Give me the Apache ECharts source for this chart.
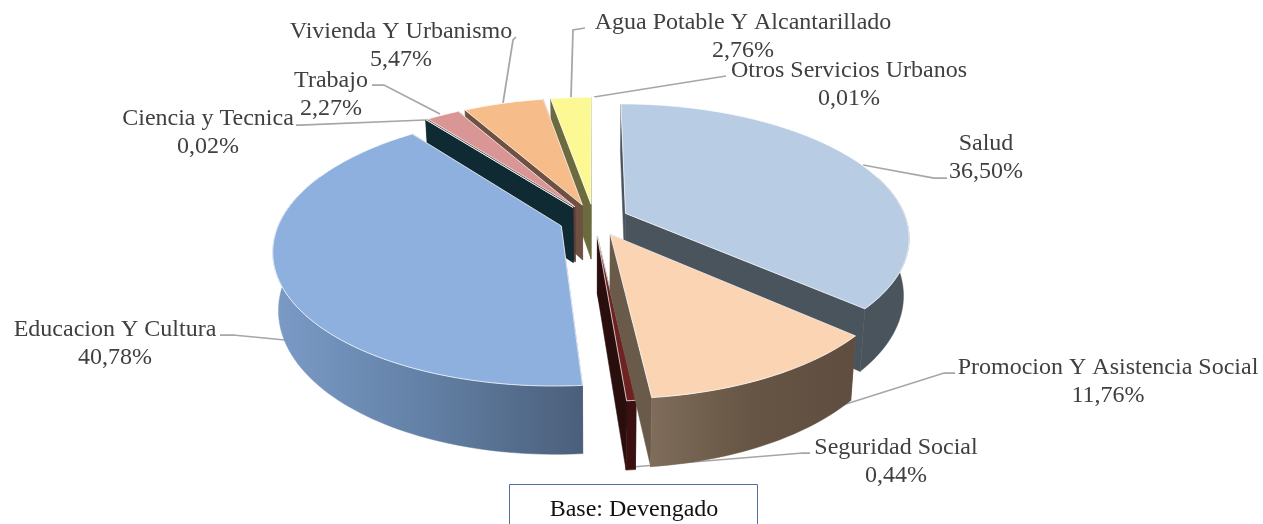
<!DOCTYPE html>
<html>
  <head>
    <meta charset="utf-8" />
    <title>Base: Devengado</title>
    <script src="https://cdn.jsdelivr.net/npm/echarts@6/dist/echarts.min.js"></script>
  </head>
  <body style="margin:0;background:#fff">
    <div id="container" style="width:1263px;height:524px;"></div>

    <script type="text/javascript">
    // datos
    var categories = ['Salud', 'Promocion Y Asistencia Social', 'Seguridad Social', 'Educacion Y Cultura',
      'Ciencia y Tecnica', 'Trabajo', 'Vivienda Y Urbanismo', 'Agua Potable Y Alcantarillado', 'Otros Servicios Urbanos'];
    var values = [36.50, 11.76, 0.44, 40.78, 0.02, 2.27, 5.47, 2.76, 0.01];
    var baseNote = 'Base: Devengado';

    // colores: tapa, pared recta, pared curva (izq, medio, der)
    var topColors = ['#b8cce4', '#fbd4b4', '#6e2222', '#8db0de', '#31859b', '#d99694', '#f6bc8a', '#fcf994', '#ffffff'];
    var sideColors = ['#4a545c', '#6a5a4a', '#2a0e0e', '#4b5f7a', '#0f2a33', '#5c3d3c', '#6e5140', '#6b6b3f', '#ffffff'];
    var arcColors = [['#4a545c', '#4a545c', '#4a545c'], ['#7f6c5a', '#665544', '#5f4e40'], ['#3a1010', '#3a1010', '#3a1010'],
      ['#7b9bc7', '#6280a5', '#4b5f7a'], ['#0f2a33', '#0f2a33', '#0f2a33'], ['#5c3d3c', '#5c3d3c', '#5c3d3c'],
      ['#6e5140', '#6e5140', '#6e5140'], ['#6b6b3f', '#6b6b3f', '#6b6b3f'], ['#ffffff', '#ffffff', '#ffffff']];
    // orden de pintado, de atras hacia adelante
    var paintOrder = [5, 8, 7, 6, 4, 3, 2, 1, 0];  // Salud .. Otros -> nivel

    // geometria de la torta 3D
    var cx = 594, cy = 220, rx = 281, ry = 130.4, persp = 0.1715, depth = 56, shrink = 0.018, explode = 0.124;

    // posicion de cada rotulo: centro x, y de la 1ra linea, guia
    var labelLayout = [
      { x: 986, y: 144, guide: [[863, 165], [934, 178], [947, 178]] },
      { x: 1108, y: 368, guide: [[650, 466], [944, 373], [955, 373]] },
      { x: 896, y: 448, guide: [[632, 467], [803, 453], [810, 453]] },
      { x: 115, y: 330, guide: [[285, 340], [233, 335], [220, 335]] },
      { x: 208, y: 119, guide: [[425, 120], [300, 125], [296, 125]] },
      { x: 331, y: 81, guide: [[440, 114], [384, 85], [372, 85]] },
      { x: 401, y: 32, guide: [[503, 103], [513, 40], [516, 37]] },
      { x: 743, y: 23, guide: [[571, 98], [573, 30], [585, 28]] },
      { x: 849, y: 71, guide: [[594, 97], [726, 76]] }
    ];

    var total = values.reduce(function (a, b) { return a + b; }, 0);
    var fontName = '"Liberation Serif", "Times New Roman", serif';

    function project(wx, wy, wz) {
      var s = 1 / (1 - persp * wy);
      return [cx + rx * wx * s * (1 - shrink * wz), cy + ry * wy * s + depth * wz * s];
    }

    function renderSlice(params, api) {
      var i = params.dataIndex;
      var before = 0;
      for (var k = 0; k < i; k++) before += values[k];
      var a0 = before / total * Math.PI * 2;
      var a1 = (before + api.value(0)) / total * Math.PI * 2;
      var mid = (a0 + a1) / 2;
      var ex = Math.sin(mid) * explode, ey = -Math.cos(mid) * explode;

      var steps = Math.max(2, Math.ceil((a1 - a0) / 0.03));
      var topArc = [], lowArc = [], wallTop = [], wallLow = [];
      for (var j = 0; j <= steps; j++) {
        var a = a0 + (a1 - a0) * j / steps;
        var p = project(ex + Math.sin(a), ey - Math.cos(a), 0);
        var q = project(ex + Math.sin(a), ey - Math.cos(a), 1);
        topArc.push(p);
        lowArc.push(q);
        // la pared curva solo se ve en la mitad delantera
        if (ey - Math.cos(a) > -0.35) {
          wallTop.push(p);
          wallLow.push(q);
        }
      }
      var apexTop = project(ex, ey, 0), apexLow = project(ex, ey, 1);
      var base = paintOrder[i] * 10 + 10;
      var edge = 'rgba(255,255,255,0.75)';
      var children = [];

      function poly(points, fill, z, stroke) {
        children.push({
          type: 'polygon', z2: base + z,
          shape: { points: points },
          style: { fill: fill, stroke: stroke || fill, lineWidth: stroke ? 1 : 0.5 }
        });
      }
      poly([apexTop, topArc[0], lowArc[0], apexLow], sideColors[i], 0);
      poly([apexTop, topArc[steps], lowArc[steps], apexLow], sideColors[i], 1);
      if (wallTop.length > 1) {
        poly(wallTop.concat(wallLow.slice().reverse()), new echarts.graphic.LinearGradient(0, 0, 1, 0, [
          { offset: 0, color: arcColors[i][0] },
          { offset: 0.5, color: arcColors[i][1] },
          { offset: 1, color: arcColors[i][2] }
        ]), 2);
      }
      poly([apexTop].concat(topArc), topColors[i], 3, edge);

      // rotulo y guia
      var lay = labelLayout[i];
      children.push({
        type: 'polyline', z2: 1,
        shape: { points: lay.guide },
        style: { fill: null, stroke: '#a6a6a6', lineWidth: 1.75 }
      });
      children.push({
        type: 'text', z2: 200, x: lay.x, y: lay.y - 14,
        style: {
          text: categories[i] + '\n' + api.value(0).toFixed(2).replace('.', ',') + '%',
          font: '24px ' + fontName, lineHeight: 27.5, fill: '#404040',
          align: 'center', verticalAlign: 'top'
        }
      });
      return { type: 'group', children: children };
    }

    var myChart = echarts.init(document.getElementById('container'));
    var option = {
      animation: false,
      backgroundColor: '#ffffff',
      graphic: [
        { type: 'rect', shape: { x: 509.5, y: 484.5, width: 248, height: 60 },
          style: { fill: '#ffffff', stroke: '#4f6f9f', lineWidth: 1 } },
        { type: 'text', x: 634, y: 510,
          style: { text: baseNote, font: '24px ' + fontName, fill: '#111111', align: 'center', verticalAlign: 'middle' } }
      ],
      series: [{
        type: 'custom',
        coordinateSystem: 'none',
        renderItem: renderSlice,
        data: values
      }]
    };
    myChart.setOption(option);
    window.addEventListener('resize', myChart.resize);
    </script>
  </body>
</html>
